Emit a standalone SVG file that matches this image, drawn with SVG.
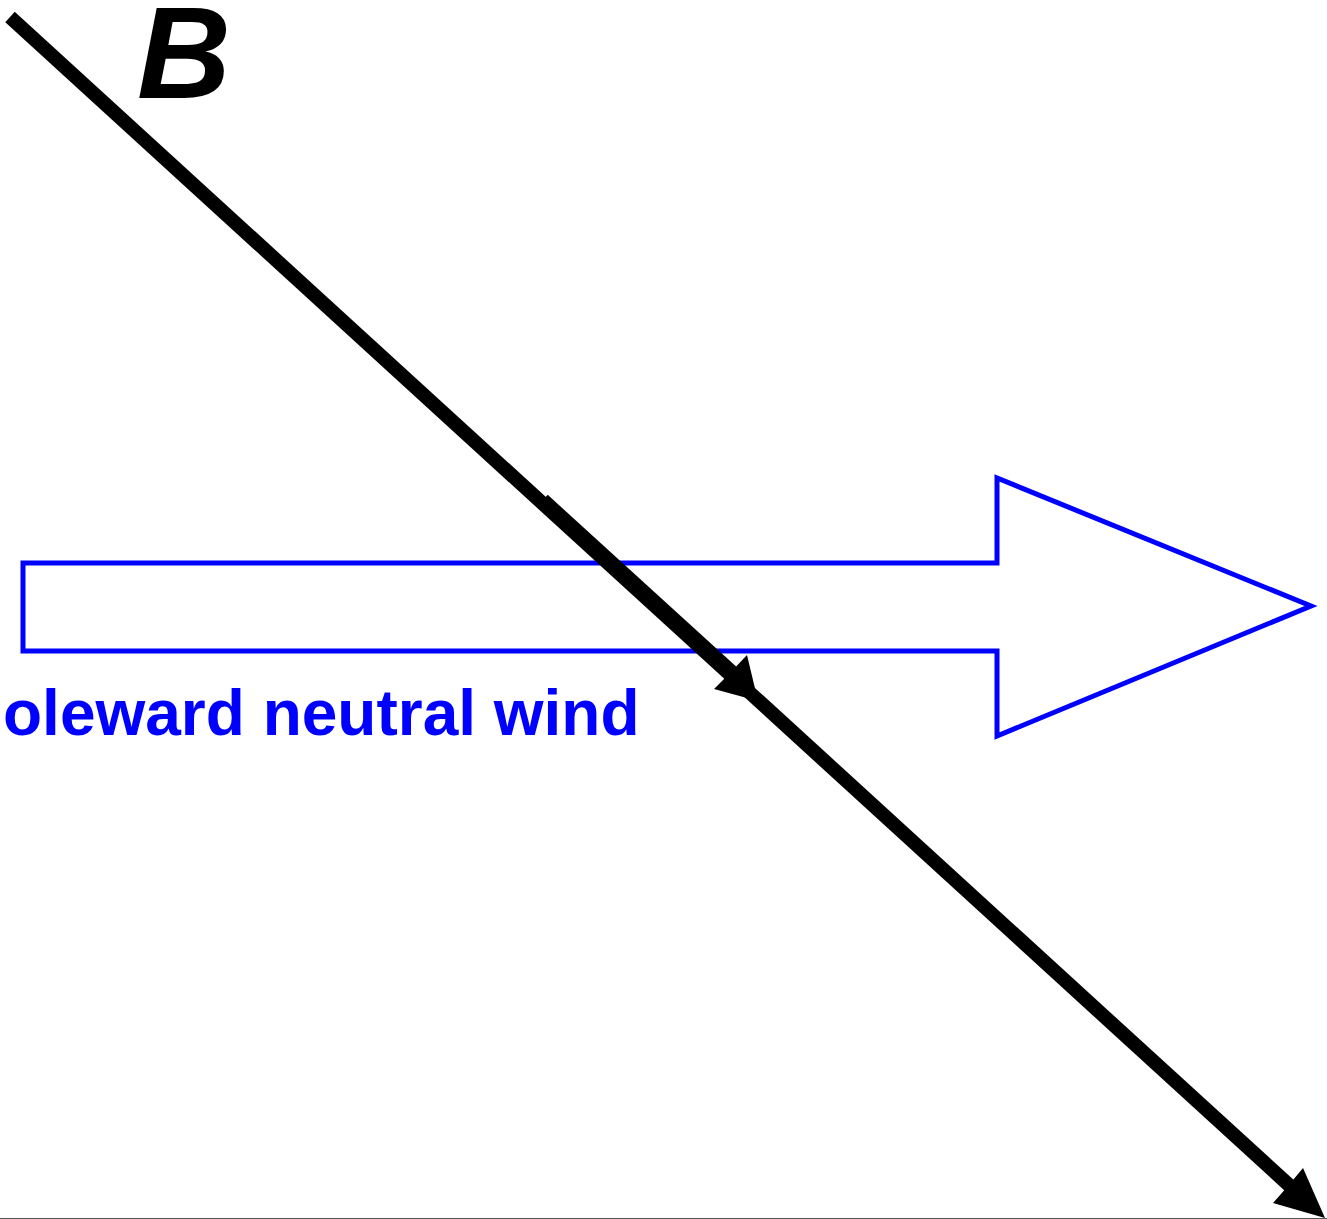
<svg xmlns="http://www.w3.org/2000/svg" width="1327" height="1219" viewBox="0 0 1327 1219">
<style>
.b{stroke:#000;stroke-width:14;fill:none}
.head{fill:#000}
.wind{fill:none;stroke:#0000ff;stroke-width:5}
.lbl{font-family:"Liberation Sans",Arial,sans-serif;font-weight:bold}
</style>
<rect width="1327" height="1219" fill="#fff"/>
<g id="wind-arrow">
<polygon class="wind" points="23,563 997,563 997,478 1311,606 997,736 997,651 23,651"/>
</g>
<g id="wind-label">
<text class="lbl" x="3" y="735" font-size="64" fill="#0000ff">oleward neutral wind</text>
</g>
<g id="connectors">
<line class="b" x1="10" y1="17" x2="1302" y2="1197"/>
<polygon class="head" points="1325,1218 1273,1203 1288,1186 1303,1168"/>
<line class="b" x1="543" y1="500" x2="735" y2="675"/>
<polygon class="head" points="758,701 714,689 729,674 747,655"/>
</g>
<g id="B-label">
<text class="lbl" x="137" y="98" font-size="130" font-style="italic" fill="#000">B</text>
</g>
<line x1="0" y1="1218.5" x2="1327" y2="1218.5" stroke="#555" stroke-width="1"/>
</svg>
